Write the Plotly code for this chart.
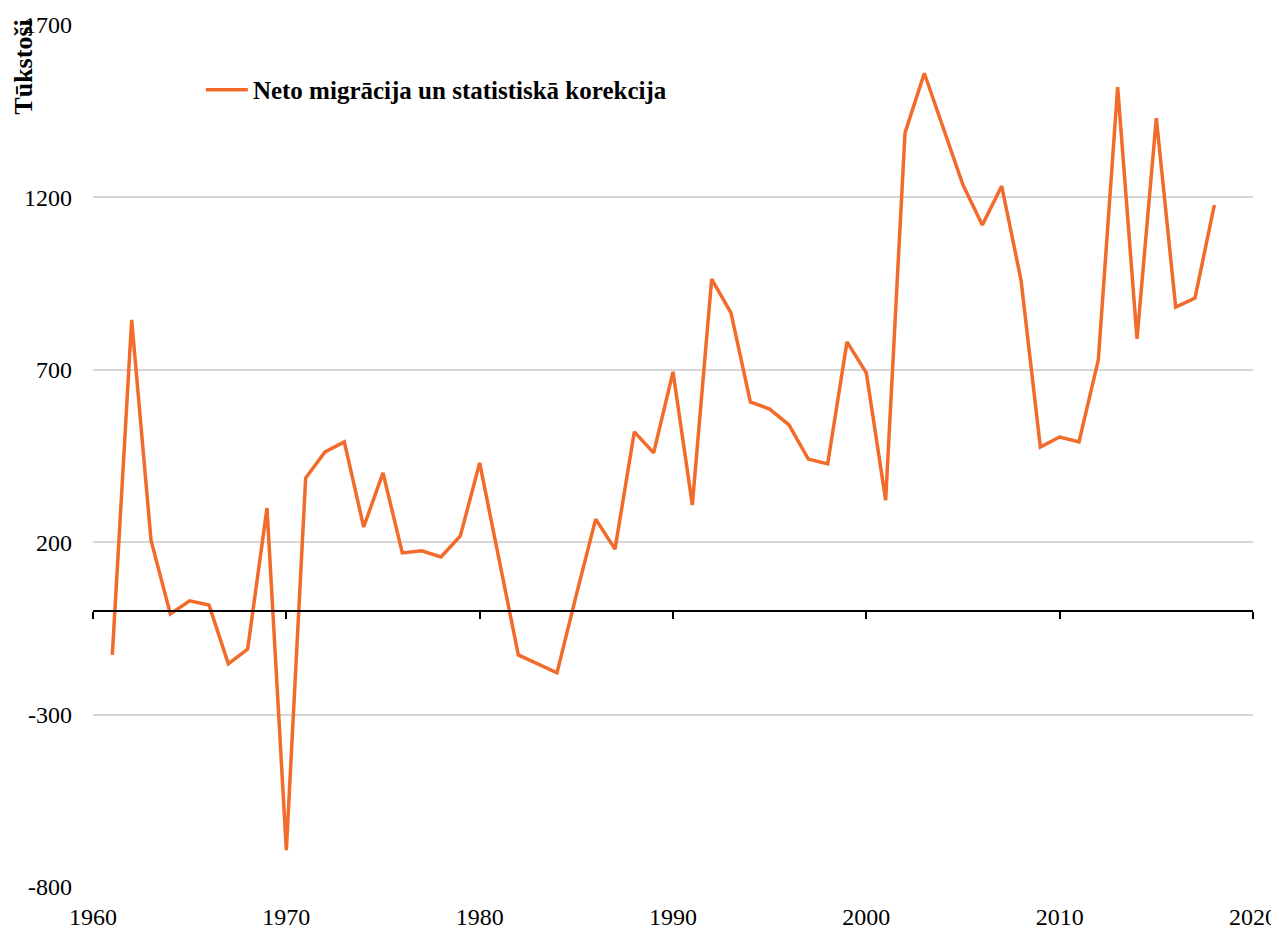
import plotly.graph_objects as go

years = list(range(1961, 2019))
values = [
    -127, 845, 206, -8, 30, 18, -153, -110, 299, -693,
    386, 462, 491, 244, 401, 169, 175, 157, 218, 430,
    151, -127, -153, -179, 47, 267, 180, 520, 459, 694,
    308, 963, 865, 607, 586, 540, 441, 427, 781, 691,
    322, 1387, 1560, 1398, 1236, 1120, 1233, 961, 476, 505,
    491, 729, 1520, 790, 1430, 882, 908, 1178,
]
series_name = "Neto migrācija un statistiskā korekcija"
y_title = "Tūkstoši"
y_ticks = [-800, -300, 200, 700, 1200, 1700]
y_tick_text = ["-800", "-300", "200", "700", "1200", "1700"]
x_ticks = [1960, 1970, 1980, 1990, 2000, 2010, 2020]

FONT = "Liberation Serif, Times New Roman, serif"
ORANGE = "#F26B2A"

fig = go.Figure()
fig.add_trace(go.Scatter(
    x=years, y=values, mode="lines", name=series_name,
    line=dict(color=ORANGE, width=3.5),
))
# invisible trace on a second x-axis that carries the zero-line axis with ticks
fig.add_trace(go.Scatter(
    x=[x_ticks[0], x_ticks[-1]], y=[0, 0], xaxis="x2", mode="lines",
    line=dict(width=0), showlegend=False, hoverinfo="skip",
))

fig.update_layout(
    width=1271, height=921,
    margin=dict(l=85, r=26, t=17, b=42, autoexpand=False),
    paper_bgcolor="white", plot_bgcolor="white",
    font=dict(family=FONT, size=24, color="black"),
    showlegend=True,
    legend=dict(
        x=0.093, y=0.9246, xanchor="left", yanchor="middle",
        bgcolor="rgba(0,0,0,0)", itemwidth=42,
        font=dict(family=FONT, size=25, color="black", weight="bold"),
    ),
    xaxis=dict(
        range=[x_ticks[0], x_ticks[-1]], tickmode="array", tickvals=x_ticks,
        showgrid=False, zeroline=False, showline=False, ticks="",
        ticklabelstandoff=13, automargin=False,
    ),
    xaxis2=dict(
        range=[x_ticks[0], x_ticks[-1]], overlaying="x", anchor="free",
        position=(0 - y_ticks[0]) / (y_ticks[-1] - y_ticks[0]),
        tickmode="array", tickvals=x_ticks, showticklabels=False,
        showgrid=False, zeroline=False, showline=True, linecolor="black",
        linewidth=2, ticks="outside", ticklen=7, tickwidth=2, tickcolor="black",
        side="bottom", automargin=False,
    ),
    yaxis=dict(
        range=[y_ticks[0], y_ticks[-1]], tickmode="array", tickvals=y_ticks,
        ticktext=y_tick_text,
        showgrid=True, gridcolor="#d6d6d6", gridwidth=1.5,
        zeroline=False, showline=False, ticks="",
        ticklabelstandoff=20, automargin=False,
    ),
)

fig.add_annotation(
    text=y_title, xref="paper", yref="paper", x=-0.06, y=0.951,
    xanchor="center", yanchor="middle", textangle=-90, showarrow=False,
    font=dict(family=FONT, size=26, color="black", weight="bold"),
)

fig.write_html("out.html")
